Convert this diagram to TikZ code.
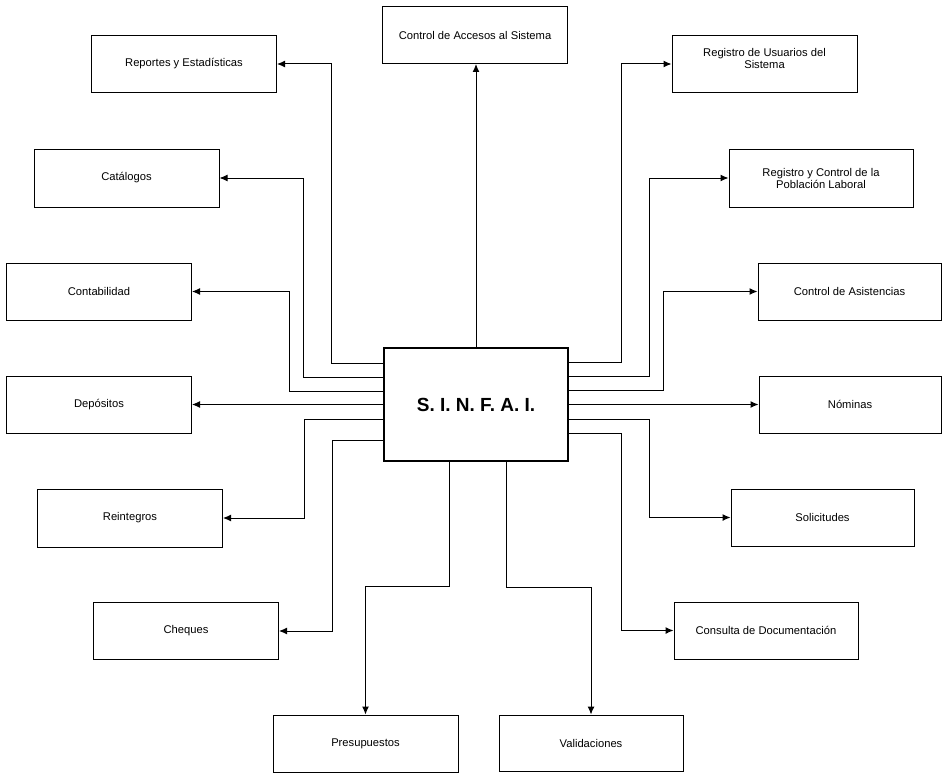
\documentclass[tikz,border=0pt]{standalone}
\usepackage{fontspec}
\setmainfont{Liberation Sans}
\usetikzlibrary{arrows.meta}
\begin{document}
\begin{tikzpicture}[x=1pt,y=-1pt,
  label text/.style={font=\fontsize{11.2}{12}\selectfont, align=center},
  module/.style={draw, line width=1pt, rectangle, inner sep=0pt,
    minimum width=185pt, minimum height=57pt, label text},
  core/.style={draw, line width=1.1pt, rectangle, inner sep=0pt,
    minimum width=184pt, minimum height=113pt,
    font=\fontsize{19}{21}\selectfont\bfseries},
  link/.style={draw, line width=1pt, -{Latex[length=8pt,width=7pt]}}]
\useasboundingbox (0,0) rectangle (944,773);

% central system
\node[core] (main) at (476,404.5) {S. I. N. F. A. I.};

% modules, upper row
\node[module] (acc) at (475,35) {Control de Accesos al Sistema};
\node[module] (rep) at (184,64) {Reportes y Estadísticas};
\node[module] (usu) at (764.5,64) {};
\node[label text] (usutxt) at (764.5,58) {Registro de Usuarios del\\Sistema};

% left column
\node[module, minimum height=58pt] (cat) at (126.5,178) {Catálogos};
\node[module] (con) at (99,291.5) {Contabilidad};
\node[module] (dep) at (99,404.5) {Depósitos};
\node[module, minimum height=58pt] (rei) at (130,518) {Reintegros};
\node[module] (che) at (186,631) {Cheques};

% right column
\node[module, minimum width=184pt, minimum height=58pt] (pob) at (821,178) {Registro y Control de la\\Población Laboral};
\node[module, minimum width=183pt] (asi) at (849.5,291.5) {Control de Asistencias};
\node[module, minimum width=182pt] (nom) at (850,404.5) {Nóminas};
\node[module, minimum width=183pt] (sol) at (822.5,517.5) {Solicitudes};
\node[module, minimum width=184pt] (doc) at (766,630.5) {Consulta de Documentación};

% bottom row
\node[module] (pre) at (365.5,743.5) {Presupuestos};
\node[module, minimum width=184pt, minimum height=56pt] (val) at (591,743) {Validaciones};

% links to the top
\draw[link] (main.north) -- (main.north |- acc.south);

% links to the left
\draw[link] (main.west |- 0,363) -| (331,64) -- (rep.east);
\draw[link] (main.west |- 0,377) -| (303,178) -- (cat.east);
\draw[link] (main.west |- 0,391) -| (289,291.5) -- (con.east);
\draw[link] (main.west) -- (dep.east);
\draw[link] (main.west |- 0,419) -| (304,518) -- (rei.east);
\draw[link] (main.west |- 0,440) -| (332,631) -- (che.east);

% links to the right
\draw[link] (main.east |- 0,362) -| (621,64) -- (usu.west);
\draw[link] (main.east |- 0,376) -| (649,178) -- (pob.west);
\draw[link] (main.east |- 0,390) -| (663,291.5) -- (asi.west);
\draw[link] (main.east) -- (nom.west);
\draw[link] (main.east |- 0,419) -| (649,517.5) -- (sol.west);
\draw[link] (main.east |- 0,433) -| (621,630.5) -- (doc.west);

% links to the bottom
\draw[link] (main.south -| 449,0) |- (365.5,586) -- (pre.north);
\draw[link] (main.south -| 506,0) |- (591,587) -- (val.north);
\end{tikzpicture}
\end{document}
